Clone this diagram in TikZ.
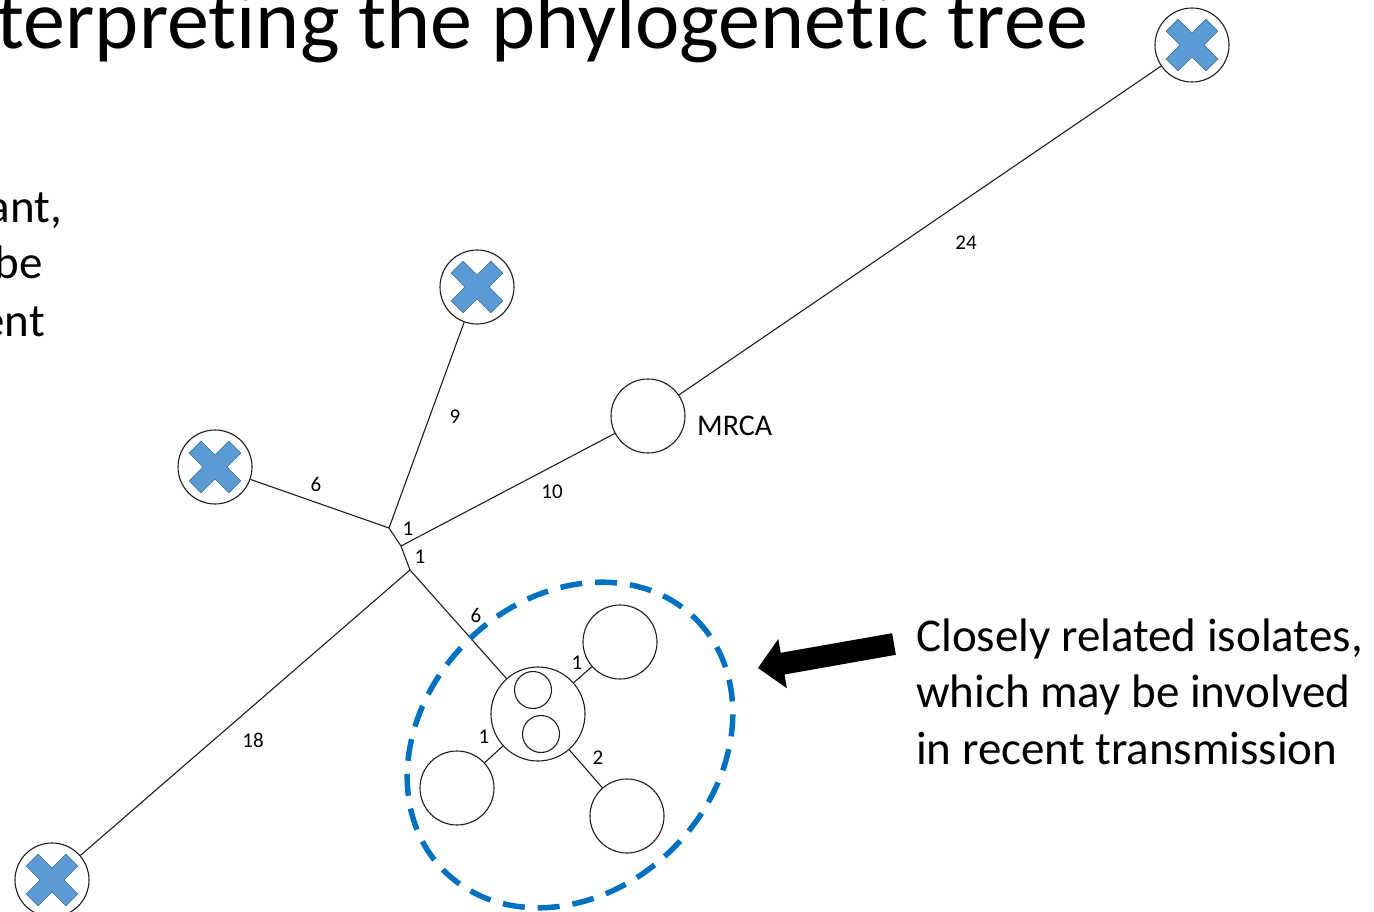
\documentclass[tikz,border=0pt]{standalone}
\usepackage{fontspec}
\setmainfont{Carlito}[Ligatures=NoCommon]
\definecolor{xfill}{RGB}{91,155,213}
\definecolor{xedge}{RGB}{65,113,156}
\definecolor{ringblue}{RGB}{0,112,192}
\definecolor{branch}{RGB}{30,30,30}

\tikzset{
  isolate/.style={circle, draw=branch, line width=1.1pt, fill=white, minimum size=74pt, inner sep=0pt},
  subisolate/.style={circle, draw=branch, line width=1.1pt, minimum size=37pt, inner sep=0pt},
  branchline/.style={draw=branch, line width=1.1pt},
  elabel/.style={font=\fontsize{21}{24}\selectfont, inner sep=0pt},
  bodytext/.style={font=\fontsize{47}{56}\selectfont, anchor=base west, inner sep=0pt},
  crossmark/.pic={
    \filldraw[fill=xfill, draw=xedge, line width=0.6pt, rotate=45]
      (8.5,8.5) -- (28,8.5) -- (28,-8.5) -- (8.5,-8.5) -- (8.5,-28) -- (-8.5,-28)
      -- (-8.5,-8.5) -- (-28,-8.5) -- (-28,8.5) -- (-8.5,8.5) -- (-8.5,28) -- (8.5,28) -- cycle;
  }
}

\begin{document}
\begin{tikzpicture}[x=1pt, y=-1pt]
\useasboundingbox (0,0) rectangle (1374,912);
\clip (0,0) rectangle (1374,912);

% heading
\node[font=\fontsize{84}{96}\selectfont, anchor=base east, inner sep=0pt] (title) at (1088,49)
  {terpreting the phylogenetic tree};

% body text on the left
\node[bodytext, anchor=base east] (b1) at (62,223) {ant,};
\node[bodytext, anchor=base east] (b2) at (43,279) {be};
\node[bodytext, anchor=base east] (b3) at (45,336) {ent};

% branch points
\coordinate (A) at (389,528);
\coordinate (B) at (401,546);
\coordinate (C) at (410,570);

% isolates marked with a cross
\node[isolate] (xTR) at (1192,45) {};
\node[isolate] (xT)  at (477,287) {};
\node[isolate] (xL)  at (215,467) {};
\node[isolate] (xBL) at (52,880) {};

% ancestor
\node[isolate] (mrca) at (648,416) {};
\node[font=\fontsize{30}{34}\selectfont, anchor=base west, inner sep=0pt] (mrcalabel) at (697,435) {MRCA};

% cluster of closely related isolates
\node[isolate, minimum size=94pt] (hub) at (538,714) {};
\node[subisolate] (hubA) at (533,690) {};
\node[subisolate] (hubB) at (541,734) {};
\node[isolate] (cUR) at (620,642) {};
\node[isolate] (cLL) at (457,788) {};
\node[isolate] (cLR) at (627,816) {};

% branches
\draw[branchline] (xL) -- (A);
\draw[branchline] (xT) -- (A);
\draw[branchline] (A) -- (B) -- (C);
\draw[branchline] (mrca) -- (B);
\draw[branchline] (mrca) -- (xTR);
\draw[branchline] (C) -- (xBL);
\draw[branchline] (C) -- (hub);
\draw[branchline] (hub) -- (cUR);
\draw[branchline] (hub) -- (cLL);
\draw[branchline] (hub) -- (cLR);

% crosses
\pic at (xTR) {crossmark};
\pic at (xT) {crossmark};
\pic at (xL) {crossmark};
\pic at (xBL) {crossmark};

% branch lengths
\node[elabel] (d1) at (316,484) {6};
\node[elabel] (d2) at (455,417) {9};
\node[elabel] (d3) at (408,529) {1};
\node[elabel] (d4) at (420,557) {1};
\node[elabel] (d5) at (552,492) {10};
\node[elabel] (d6) at (966,243) {24};
\node[elabel] (d7) at (253,740) {18};
\node[elabel] (d8) at (476,615) {6};
\node[elabel] (d9) at (577,663) {1};
\node[elabel] (d10) at (484,737) {1};
\node[elabel] (d11) at (598,758) {2};

% dashed ring round the cluster
\draw[ringblue, line width=5.5pt, dash pattern=on 22pt off 13pt, shift={(570,745)}, rotate=45]
  (0,0) ellipse [x radius=178, y radius=146];

% pointer arrow
\fill[black] (892.1,633.2) -- (780.7,652.8) -- (778.3,639.0) -- (758,668)
  -- (786.9,688.3) -- (784.5,674.5) -- (895.9,654.8) -- cycle;

% note
\node[bodytext] (n1) at (916,651) {Closely related isolates,};
\node[bodytext] (n2) at (916,707) {which may be involved};
\node[bodytext] (n3) at (916,764) {in recent transmission};
\end{tikzpicture}
\end{document}
